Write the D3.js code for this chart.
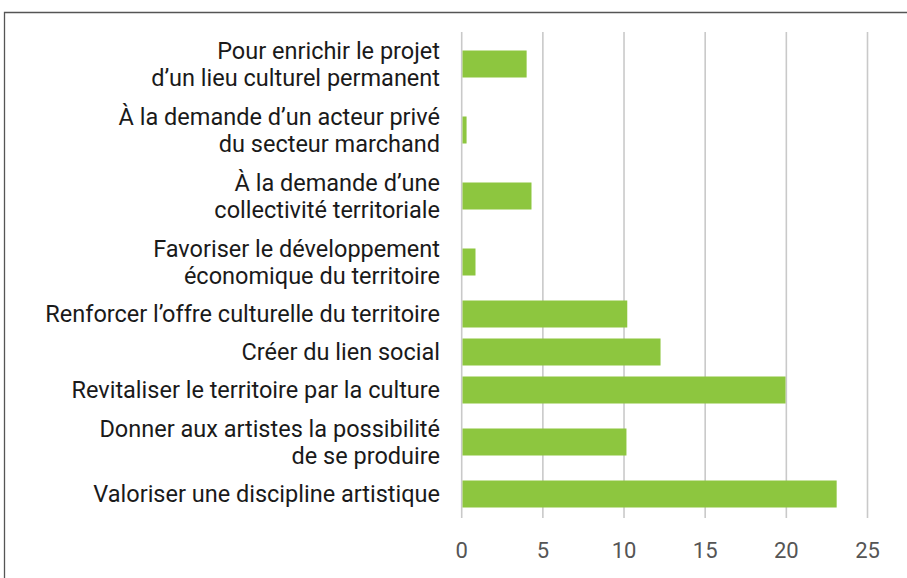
<!DOCTYPE html>
<html>
<head>
<meta charset="utf-8">
<script src="https://cdn.jsdelivr.net/npm/d3@7"></script>
<style>
  body { margin: 0; background: #fff; }
  svg { display: block; }
</style>
</head>
<body>
<svg id="chart" width="907" height="578"></svg>
<script>
// Chart data
const categories = [
    ['Pour enrichir le projet', 'd\u2019un lieu culturel permanent'],
    ['\u00C0 la demande d\u2019un acteur priv\u00E9', 'du secteur marchand'],
    ['\u00C0 la demande d\u2019une', 'collectivit\u00E9 territoriale'],
    ['Favoriser le d\u00E9veloppement', '\u00E9conomique du territoire'],
    ['Renforcer l\u2019offre culturelle du territoire'],
    ['Cr\u00E9er du lien social'],
    ['Revitaliser le territoire par la culture'],
    ['Donner aux artistes la possibilit\u00E9', 'de se produire'],
    ['Valoriser une discipline artistique']
];
const values = [4, 0.3, 4.3, 0.85, 10.2, 12.25, 19.95, 10.15, 23.1];
const xTicks = [0, 5, 10, 15, 20, 25];

const svg = d3.select('#chart');

// frame (top and left edges only)
svg.append('path')
    .attr('d', 'M4.5,578 V12.5 H907')
    .attr('fill', 'none')
    .attr('stroke', '#555')
    .attr('stroke-width', 1.3);

const x = d3.scaleLinear().domain([0, 25]).range([461.7, 867.5]);

// each row gets a slot sized by the number of label lines
const slotPad = 10, slotLine = 28;
const slots = categories.map(lines => slotPad + slotLine * lines.length);
const offsets = [];
slots.reduce((acc, h) => { offsets.push(acc + h / 2); return acc + h; }, 0);
const total = d3.sum(slots);
const y = d3.scaleLinear().domain([0, total]).range([31, 513]);
const barH = 27;

// gridlines
svg.append('g')
    .selectAll('line')
    .data(xTicks)
    .join('line')
    .attr('x1', d => x(d)).attr('x2', d => x(d))
    .attr('y1', 32).attr('y2', 518)
    .attr('stroke', '#c9c9c9')
    .attr('stroke-width', 1.6);

// bars
svg.append('g')
    .selectAll('rect')
    .data(values)
    .join('rect')
    .attr('x', x(0) + 0.8)
    .attr('y', (d, i) => y(offsets[i]) - barH / 2)
    .attr('width', d => x(d) - x(0) - 0.8)
    .attr('height', barH)
    .attr('fill', '#8dc63f');

// category labels
const labels = svg.append('g')
    .selectAll('text')
    .data(categories)
    .join('text')
    .attr('text-anchor', 'end')
    .attr('font-family', 'Roboto, sans-serif')
    .attr('font-size', 23.5)
    .attr('fill', '#1a1a1a');

labels.each(function (lines, i) {
    const cy = y(offsets[i]);
    const lh = 27;
    const start = cy - (lines.length - 1) * lh / 2;
    d3.select(this).selectAll('tspan')
        .data(lines)
        .join('tspan')
        .attr('x', 440)
        .attr('y', (d, j) => start + j * lh)
        .attr('dy', '0.35em')
        .text(d => d);
});

// x tick labels
svg.append('g')
    .selectAll('text')
    .data(xTicks)
    .join('text')
    .attr('x', d => x(d))
    .attr('y', 550)
    .attr('dy', '0.35em')
    .attr('text-anchor', 'middle')
    .attr('font-family', 'Roboto, sans-serif')
    .attr('font-size', 22)
    .attr('fill', '#555')
    .text(d => d);
</script>
</body>
</html>
